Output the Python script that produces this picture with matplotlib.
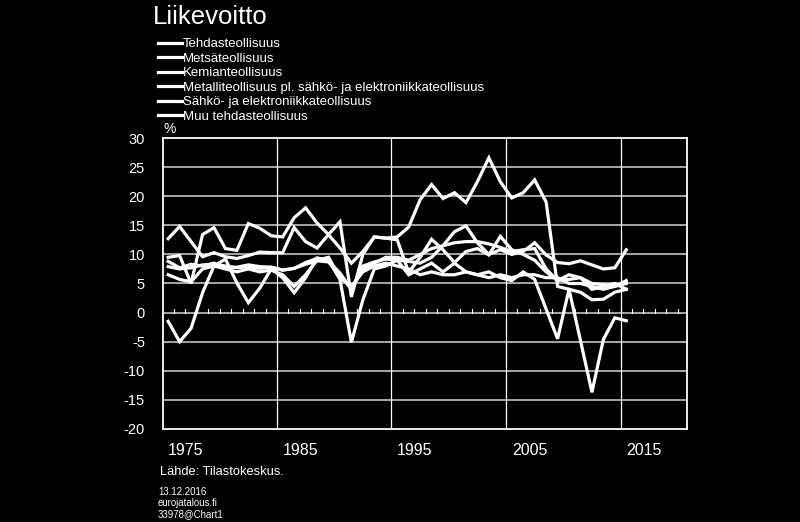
import matplotlib
matplotlib.use('Agg')
import matplotlib.pyplot as plt
import matplotlib.transforms as mtransforms
import numpy as np

plt.rcParams['font.family'] = ['Liberation Sans', 'DejaVu Sans']
plt.rcParams['axes.unicode_minus'] = False

# Data
years = list(range(1975, 2016))

tehdas = [7.9, 7.5, 7.7, 8.2, 8.3, 8.0, 7.7, 7.9, 7.6, 7.8, 7.3, 7.6, 8.3, 8.9, 8.7, 6.5,
          4.0, 7.5, 8.5, 9.5, 9.5, 9.0, 10.0, 11.0, 11.5, 12.0, 12.2, 12.2, 11.8, 11.2,
          10.5, 10.8, 11.0, 7.5, 5.5, 6.5, 6.0, 5.0, 4.8, 4.5, 5.5]
metsa = [-1.5, -5.0, -2.7, 3.4, 8.0, 9.2, 5.1, 1.7, 4.2, 7.5, 6.0, 3.4, 6.0, 9.4, 9.0, 5.7,
         -5.1, 2.2, 7.5, 8.0, 9.0, 6.5, 7.5, 8.5, 7.0, 8.5, 7.0, 6.5, 7.0, 6.0,
         5.5, 7.0, 5.7, 0.6, -4.5, 4.0, 3.5, 2.2, 2.3, 3.5, 4.0]
kemia = [8.8, 7.7, 8.3, 8.0, 8.5, 7.8, 7.8, 8.2, 7.9, 7.8, 7.3, 7.6, 8.6, 9.3, 8.8, 6.8,
         4.0, 8.0, 8.7, 9.2, 9.0, 8.8, 8.5, 9.5, 11.5, 13.9, 14.9, 12.0, 10.0, 10.8,
         10.0, 10.5, 12.0, 9.9, 8.6, 8.4, 8.9, 8.2, 7.5, 7.7, 10.8]
metalli = [9.5, 9.8, 5.0, 13.4, 14.6, 11.0, 10.7, 15.3, 14.5, 13.2, 13.0, 16.3, 18.0, 15.4,
           13.4, 15.6, 2.7, 10.0, 13.0, 12.8, 12.5, 6.9, 9.5, 12.6, 10.8, 8.6, 10.5, 11.0,
           9.9, 13.1, 10.8, 10.0, 9.0, 7.0, 5.5, 5.7, 6.0, 4.0, 4.5, 5.0, 4.0]
sahko = [12.7, 14.8, 12.2, 9.6, 10.3, 9.6, 9.3, 9.8, 10.4, 10.3, 10.3, 14.6, 12.2, 11.1,
         13.4, 11.1, 8.5, 10.5, 13.0, 12.8, 13.0, 14.7, 19.4, 22.0, 19.6, 20.6, 18.9, 22.5,
         26.6, 22.5, 19.7, 20.6, 22.8, 19.0, 4.5, 4.0, -4.8, -13.7, -4.6, -0.9, -1.4]
muu = [6.5, 5.7, 5.3, 7.5, 8.0, 7.5, 7.0, 7.5, 7.0, 7.3, 6.5, 4.5, 6.5, 9.0, 9.5, 6.0,
       4.5, 7.0, 8.0, 8.5, 8.0, 7.5, 6.5, 7.0, 6.5, 6.5, 7.0, 6.5, 6.0, 6.5,
       6.0, 6.5, 6.5, 6.0, 6.0, 5.0, 5.0, 4.5, 4.0, 4.5, 5.0]

series = [tehdas, metsa, kemia, metalli, sahko, muu]
labels = ['Tehdasteollisuus', 'Metsäteollisuus', 'Kemianteollisuus',
          'Metalliteollisuus pl. sähkö- ja elektroniikkateollisuus',
          'Sähkö- ja elektroniikkateollisuus', 'Muu tehdasteollisuus']
year_labels = [1975, 1985, 1995, 2005, 2015]
y_ticks = list(range(-20, 31, 5))

fig = plt.figure(figsize=(8, 5.22), dpi=100, facecolor='black')
ax = fig.add_axes([0.20375, 0.1782, 0.655, 0.5574], facecolor='black')

for s, lab in zip(series, labels):
    ax.plot(years, s, color='white', lw=2.3, label=lab, solid_joinstyle='miter', zorder=3)

ax.set_xlim(1974.55, 2020.3)
ax.set_ylim(-20, 30)

# grid
for v in y_ticks[1:-1]:
    ax.axhline(v, color='#a6a6a6', lw=1.4, zorder=1)
for g in [1984.5, 1994.5, 2004.5, 2014.5]:
    ax.axvline(g, color='white', lw=0.9, zorder=1)

# small ticks on the zero line
for t in np.arange(1975.5, 2020, 1.0):
    ax.plot([t, t], [0, 0.7], color='white', lw=0.8, zorder=2)

ax.set_yticks(y_ticks)
ax.set_xticks([])
ax.tick_params(axis='y', length=0, pad=13, labelsize=10.5, colors='white')
for sp in ax.spines.values():
    sp.set_color('white')
    sp.set_linewidth(1.3)

trans = mtransforms.blended_transform_factory(ax.transData, ax.transAxes)
for yr in year_labels:
    ax.text(yr + 1.55, -0.073, str(yr), transform=trans, ha='center', va='center',
            color='white', fontsize=11.5)

fig.text(163 / 800, 1 - 129 / 522, '%', color='white', fontsize=10, ha='left', va='center')
fig.text(153 / 800, 1 - 17 / 522, 'Liikevoitto', color='white', fontsize=18.5, ha='left', va='center')

handles = ax.get_lines()[:6]
fig.legend(handles, labels, loc='upper left', bbox_to_anchor=(158 / 800, 1 - 38 / 522),
           frameon=False, fontsize=9.5, labelcolor='white', handlelength=1.85,
           handletextpad=0.05, labelspacing=0.17, borderaxespad=0, borderpad=0)

fig.text(160 / 800, 1 - 472 / 522, 'Lähde: Tilastokeskus.', color='white', fontsize=9.3,
         ha='left', va='center')
fig.text(158 / 800, 1 - 492 / 522, '13.12.2016', color='white', fontsize=6.9, ha='left', va='center')
fig.text(158 / 800, 1 - 503 / 522, 'eurojatalous.fi', color='white', fontsize=6.9, ha='left', va='center')
fig.text(158 / 800, 1 - 514 / 522, '33978@Chart1', color='white', fontsize=6.9, ha='left', va='center')

fig.savefig('out.png', dpi=100, facecolor='black')
